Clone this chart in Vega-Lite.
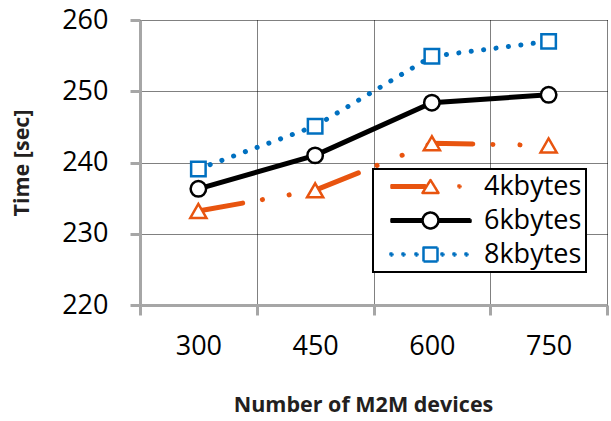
{
  "$schema": "https://vega.github.io/schema/vega-lite/v6.json",
  "width": 467,
  "height": 285,
  "autosize": "none",
  "padding": {"left": 140, "top": 20, "right": 4, "bottom": 116},
  "config": {"view": {"stroke": null}, "font": "Open Sans"},
  "data": {
    "values": [
      {"devices": "300", "series": "4kbytes", "time": 233.2},
      {"devices": "450", "series": "4kbytes", "time": 236.1},
      {"devices": "600", "series": "4kbytes", "time": 242.7},
      {"devices": "750", "series": "4kbytes", "time": 242.4},
      {"devices": "300", "series": "6kbytes", "time": 236.3},
      {"devices": "450", "series": "6kbytes", "time": 241.0},
      {"devices": "600", "series": "6kbytes", "time": 248.4},
      {"devices": "750", "series": "6kbytes", "time": 249.5},
      {"devices": "300", "series": "8kbytes", "time": 239.1},
      {"devices": "450", "series": "8kbytes", "time": 245.1},
      {"devices": "600", "series": "8kbytes", "time": 254.9},
      {"devices": "750", "series": "8kbytes", "time": 257.0}
    ]
  },
  "encoding": {
    "x": {
      "field": "devices",
      "type": "ordinal",
      "sort": ["300", "450", "600", "750"],
      "scale": {"type": "band", "paddingInner": 0, "paddingOuter": 0},
      "axis": {
        "title": "Number of M2M devices",
        "titleFont": "Open Sans",
        "titleFontSize": 21.5,
        "titleFontWeight": "bold",
        "titleColor": "#231F20",
        "titlePadding": 35,
        "titleX": 223,
        "labelFont": "Open Sans",
        "labelFontSize": 27,
        "labelColor": "black",
        "labelAngle": 0,
        "labelPadding": 18,
        "tickBand": "extent",
        "tickSize": 10,
        "tickWidth": 3,
        "tickColor": "#A6A6A6",
        "domainColor": "#A6A6A6",
        "domainWidth": 3,
        "grid": true,
        "gridColor": "black",
        "gridDash": [1, 1],
        "gridWidth": 1
      }
    },
    "y": {
      "field": "time",
      "type": "quantitative",
      "scale": {"domain": [220, 260], "nice": false, "zero": false},
      "axis": {
        "title": "Time [sec]",
        "titleFont": "Open Sans",
        "titleFontSize": 21.5,
        "titleFontWeight": "bold",
        "titleColor": "#231F20",
        "titlePadding": 28,
        "values": [220, 230, 240, 250, 260],
        "labelFont": "Open Sans",
        "labelFontSize": 27,
        "labelColor": "black",
        "labelPadding": 22,
        "tickSize": 10,
        "tickWidth": 3,
        "tickColor": "#A6A6A6",
        "domainColor": "#A6A6A6",
        "domainWidth": 3,
        "grid": true,
        "gridColor": "black",
        "gridDash": [1, 1],
        "gridWidth": 1
      }
    },
    "color": {
      "field": "series",
      "type": "nominal",
      "scale": {"domain": ["4kbytes", "6kbytes", "8kbytes"], "range": ["#E8540F", "#000000", "#0070C0"]},
      "legend": {
        "title": null,
        "orient": "none",
        "legendX": 233,
        "legendY": 149,
        "strokeColor": "black",
        "fillColor": "white",
        "padding": 4,
        "labelFont": "Open Sans",
        "labelFontSize": 27,
        "labelColor": "black",
        "labelOffset": 80,
        "rowPadding": 6,
        "symbolSize": 400,
        "symbolStrokeWidth": 2.5,
        "encode": {
          "legend": {"update": {"strokeWidth": {"value": 2}}},
          "symbols": {
            "update": {
              "shape": {"signal": "datum.value === '4kbytes' ? 'M0.1,-0.125H3.45V0.125H0.1Z M4,-0.65L4.8,0.65L3.2,0.65Z M6.8,-0.1H7V0.1H6.8Z' : datum.value === '6kbytes' ? 'M0.1,-0.125H3.2V0.125H0.1Z M4.8,-0.125H8V0.125H4.8Z M4.8,0L4.739,0.306L4.566,0.566L4.306,0.739L4,0.8L3.694,0.739L3.434,0.566L3.261,0.306L3.2,0L3.261,-0.306L3.434,-0.566L3.694,-0.739L4,-0.8L4.306,-0.739L4.566,-0.566L4.739,-0.306Z' : 'M0,-0.1H0.2V0.1H0Z M1.2,-0.1H1.4V0.1H1.2Z M2.5,-0.1H2.7V0.1H2.5Z M3.3,-0.7H4.7V0.7H3.3Z M5.1,-0.1H5.3V0.1H5.1Z M6.3,-0.1H6.5V0.1H6.3Z M7.5,-0.1H7.7V0.1H7.5Z'"},
              "size": {"value": 400},
              "fill": {"value": "white"},
              "fillOpacity": {"value": 1},
              "strokeWidth": {"value": 2.5},
              "strokeJoin": {"value": "round"},
              "strokeDash": {"value": [1, 0]},
              "opacity": {"value": 1}
            }
          }
        }
      }
    }
  },
  "layer": [
    {
      "transform": [{"filter": "datum.series === '4kbytes'"}],
      "mark": {"type": "line", "strokeWidth": 5, "strokeCap": "round", "strokeDash": [45, 20, 0.1, 27, 0.1, 28]}
    },
    {
      "transform": [{"filter": "datum.series === '6kbytes'"}],
      "mark": {"type": "line", "strokeWidth": 5, "strokeCap": "round"}
    },
    {
      "transform": [{"filter": "datum.series === '8kbytes'"}],
      "mark": {"type": "line", "strokeWidth": 5, "strokeCap": "round", "strokeDash": [0.1, 12.4]}
    },
    {
      "transform": [{"filter": "datum.series === '4kbytes'"}],
      "mark": {"type": "point", "shape": "triangle-up", "filled": false, "fill": "white", "fillOpacity": 1, "strokeWidth": 2.5, "size": 260, "opacity": 1}
    },
    {
      "transform": [{"filter": "datum.series === '6kbytes'"}],
      "mark": {"type": "point", "shape": "circle", "filled": false, "fill": "white", "fillOpacity": 1, "strokeWidth": 2.5, "size": 240, "opacity": 1}
    },
    {
      "transform": [{"filter": "datum.series === '8kbytes'"}],
      "mark": {"type": "point", "shape": "square", "filled": false, "fill": "white", "fillOpacity": 1, "strokeWidth": 2.5, "size": 210, "opacity": 1}
    }
  ]
}
